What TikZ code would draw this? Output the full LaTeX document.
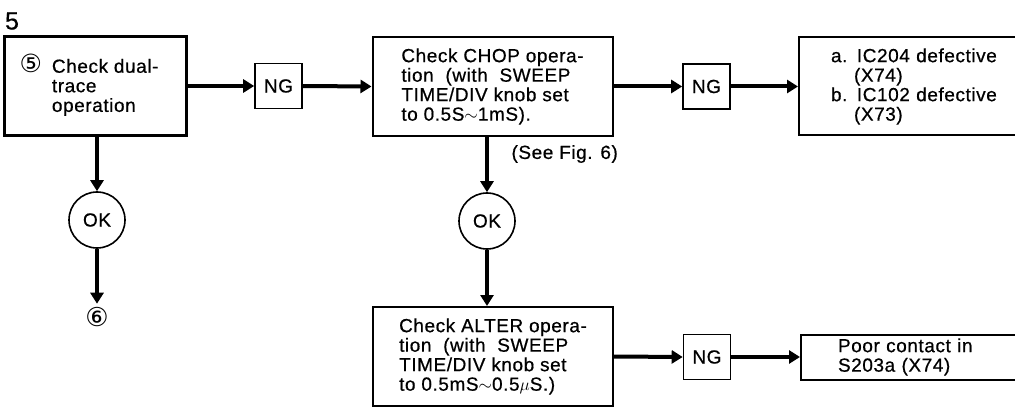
\documentclass[tikz,border=0pt]{standalone}
\usepackage{fontspec}
\setmainfont{Liberation Sans}[LetterSpace=3, FakeBold=0.6]
\newfontfamily\circfont{DejaVu Sans}
\usetikzlibrary{arrows.meta, positioning}
\tikzset{
  flow/.style={-{Triangle[length=11pt,width=13pt]}, line width=4pt},
}

\begin{document}
\begin{tikzpicture}[x=1pt, y=-1pt,
    font=\fontsize{19}{19.5}\selectfont,
    box/.style={draw, line width=2pt, align=left, inner sep=0pt,
                minimum width=240pt, minimum height=99pt},
    ngbox/.style={draw, line width=1.6pt, minimum width=47pt,
                  minimum height=45pt, inner sep=0pt},
    okcirc/.style={draw, circle, line width=1.6pt, minimum size=56pt,
                   inner sep=0pt}]
  \useasboundingbox (0,0) rectangle (1015,409);
  \clip (0,0) rectangle (1015,409);
  % Nodes
  \node[font=\fontsize{25}{26}\selectfont] (fig) at (12,21) {5};
  \node[box, line width=3pt, minimum width=182pt] (dual) at (95,86)
    {\begin{tabular}{@{}l@{\hspace{10pt}}l@{}}
       {\circfont\fontsize{25}{19.5}\selectfont ⑤} & Check dual-\\ & trace\\ & operation
     \end{tabular}\hspace*{12pt}};
  \node[ngbox] (ng1) at (278.5,86) {NG};
  \node[box] (chop) at (492.5,86.5)
    {Check CHOP opera-\\tion\ \ (with\ \ SWEEP\\TIME/DIV knob set\\to 0.5S$\sim$1mS).};
  \node[ngbox] (ng2) at (706.5,86.5) {NG};
  \node[box, anchor=west, text width=190pt, inner xsep=32pt,
        minimum height=98pt] (res1) at (798,86.5)
    {a. IC204 defective\\\hspace*{23pt}(X74)\\b. IC102 defective\\\hspace*{23pt}(X73)};
  \node[okcirc] (ok1) at (97,220) {OK};
  \node[font=\circfont\fontsize{26}{26}\selectfont] (six) at (97,317) {⑥};
  \node[okcirc] (ok2) at (487,221) {OK};
  \node[anchor=west] (seefig) at (508,154) {(See Fig. 6)};
  \node[box] (alter) at (493,356.5)
    {Check ALTER opera-\\tion\ \ (with\ \ SWEEP\\TIME/DIV knob set\\to 0.5mS$\sim$0.5$\mu$S.)};
  \node[ngbox] (ng3) at (707,357) {NG};
  \node[box, anchor=west, text width=180pt, inner xsep=37pt,
        minimum height=45pt] (res2) at (800,357)
    {Poor contact in\\S203a (X74)};
  % Arrows
  \draw[flow] (dual.east) -- (ng1.west);
  \draw[flow] (ng1.east) -- (chop.west);
  \draw[flow] (chop.east) -- (ng2.west);
  \draw[flow] (ng2.east) -- (res1.west);
  \draw[flow] (ok1 |- dual.south) -- (ok1.north);
  \draw[flow] (ok1.south) -- (six.north);
  \draw[flow] (ok2 |- chop.south) -- (ok2.north);
  \draw[flow] (ok2.south) -- (ok2 |- alter.north);
  \draw[flow] (alter.east) -- (ng3.west);
  \draw[flow] (ng3.east) -- (res2.west);
\end{tikzpicture}
\end{document}
